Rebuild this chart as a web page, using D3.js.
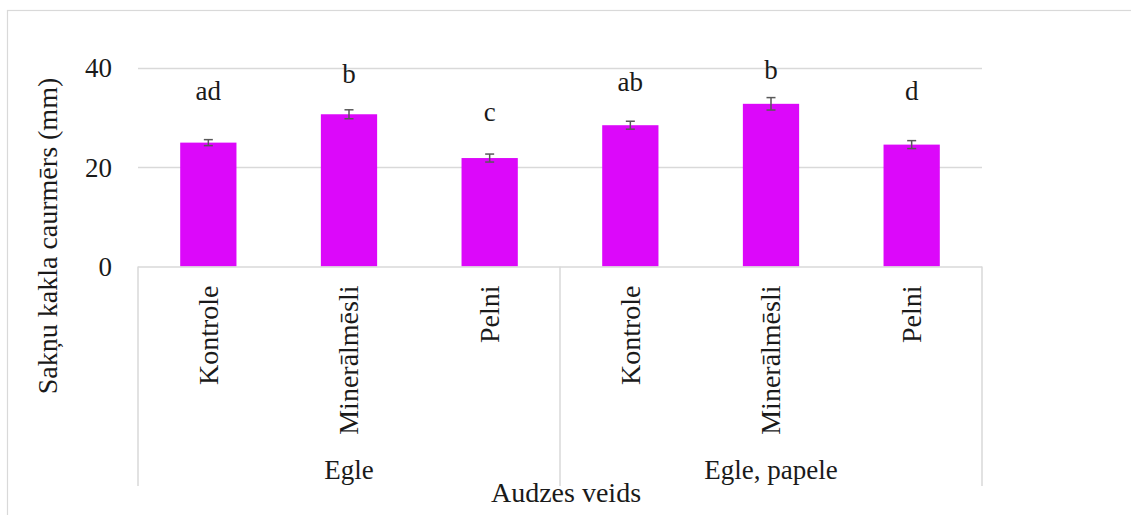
<!DOCTYPE html>
<html><head><meta charset="utf-8">
<script src="https://cdn.jsdelivr.net/npm/d3@7"></script>
<style>
body{margin:0;background:#fff}
svg{display:block}
svg text{font-family:'Liberation Serif','Times New Roman',Times,serif !important;fill:#1a1a1a}
</style>
</head><body>
<svg id="chart" width="1131" height="515" font-family="Liberation Serif"></svg>
<script>
// ---- data ----
const groups = ["Egle", "Egle, papele"];
const treatments = ["Kontrole", "Minerālmēsli", "Pelni"];
const values = [24.9, 30.6, 21.8, 28.4, 32.7, 24.5];
const errors = [0.6, 0.9, 0.8, 0.8, 1.25, 0.8];
const letters = ["ad", "b", "c", "ab", "b", "d"];
const letterAt = [33.5, 36.8, 29.2, 35.3, 37.6, 33.5];
const yTicks = [0, 20, 40];
const yTitle = "Sakņu kakla caurmērs (mm)";
const xTitle = "Audzes veids";

// ---- layout ----
const plotLeft = 138, plotRight = 982, plotTop = 67.5, plotBottom = 266.5, axisBottom = 486;
const fs = 27;
const serif = "'Liberation Serif','Times New Roman',Times,serif";
const barColor = "#dc08fa";
const gridColor = "#d9d9d9";

const cats = [];
groups.forEach(g => treatments.forEach(t => cats.push({g, t})));
const rows = cats.map((c, i) => ({...c, key: i, v: values[i], e: errors[i], l: letters[i], la: letterAt[i]}));

const svg = d3.select("#chart");

// outer frame
svg.append("rect").attr("x", 7.5).attr("y", 10.5).attr("width", 1140).attr("height", 520)
  .attr("fill", "none").attr("stroke", gridColor).attr("stroke-width", 1.2);

const x = d3.scaleBand().domain(rows.map(d => d.key)).range([plotLeft, plotRight])
  .paddingInner(0.6).paddingOuter(0.3);
const y = d3.scaleLinear().domain([0, 40]).range([plotBottom, plotTop]);
const step = x.step();

// gridlines
svg.append("g").selectAll("line").data(yTicks.filter(t => t > 0)).join("line")
  .attr("x1", plotLeft).attr("x2", plotRight)
  .attr("y1", d => Math.round(y(d)) + 0.5).attr("y2", d => Math.round(y(d)) + 0.5)
  .attr("stroke", gridColor).attr("stroke-width", 1.5);

// y axis tick labels
const yAxis = d3.axisLeft(y).tickValues(yTicks).tickSize(0).tickPadding(26).tickFormat(d3.format("d"));
const gy = svg.append("g").attr("transform", `translate(${plotLeft},0)`).call(yAxis)
  .attr("font-family", serif).attr("font-size", fs);
gy.select(".domain").remove();
gy.selectAll("text").style("font-family", serif).style("font-size", fs + "px").attr("fill", "#1a1a1a").attr("dy", "0.34em");

// bars
svg.append("g").selectAll("rect").data(rows).join("rect")
  .attr("x", d => x(d.key)).attr("width", x.bandwidth())
  .attr("y", d => y(d.v)).attr("height", d => y(0) - y(d.v))
  .attr("fill", barColor);

// error bars
const eg = svg.append("g").attr("stroke", "#595959").attr("stroke-width", 1.5);
rows.forEach(d => {
  const cx = x(d.key) + x.bandwidth() / 2;
  eg.append("line").attr("x1", cx).attr("x2", cx).attr("y1", y(d.v + d.e)).attr("y2", y(d.v - d.e));
  eg.append("line").attr("x1", cx - 4.5).attr("x2", cx + 4.5).attr("y1", y(d.v + d.e)).attr("y2", y(d.v + d.e));
  eg.append("line").attr("x1", cx - 4.5).attr("x2", cx + 4.5).attr("y1", y(d.v - d.e)).attr("y2", y(d.v - d.e));
});

// significance letters
svg.append("g").selectAll("text").data(rows).join("text")
  .attr("x", d => x(d.key) + x.bandwidth() / 2).attr("y", d => y(d.la))
  .attr("text-anchor", "middle").style("font-family", serif).style("font-size", fs + "px").text(d => d.l);

// category axis lines
const ax = svg.append("g").attr("stroke", gridColor).attr("stroke-width", 1.5);
ax.append("line").attr("x1", plotLeft).attr("x2", plotRight).attr("y1", plotBottom + 0.5).attr("y2", plotBottom + 0.5);
const seps = d3.range(groups.length + 1).map(i => plotLeft + i * treatments.length * step);
seps.forEach(sx => {
  ax.append("line").attr("x1", sx).attr("x2", sx).attr("y1", plotBottom).attr("y2", axisBottom);
});

// treatment labels (rotated)
svg.append("g").selectAll("text").data(rows).join("text")
  .attr("transform", d => `translate(${x(d.key) + x.bandwidth() / 2},${plotBottom + 19}) rotate(-90)`)
  .attr("text-anchor", "end").attr("dy", "0.33em")
  .style("font-family", serif).style("font-size", "28px").text(d => d.t);

// group labels
svg.append("g").selectAll("text").data(groups).join("text")
  .attr("x", (d, i) => (seps[i] + seps[i + 1]) / 2).attr("y", 479)
  .attr("text-anchor", "middle").style("font-family", serif).style("font-size", fs + "px").text(d => d);

// axis titles
svg.append("text").attr("x", 566).attr("y", 502).attr("text-anchor", "middle")
  .style("font-family", serif).style("font-size", "28px").text(xTitle);
svg.append("text").attr("transform", `translate(48,236) rotate(-90)`)
  .attr("text-anchor", "middle").attr("dy", "0.33em")
  .style("font-family", serif).style("font-size", "28px").text(yTitle);
</script>
</body></html>
